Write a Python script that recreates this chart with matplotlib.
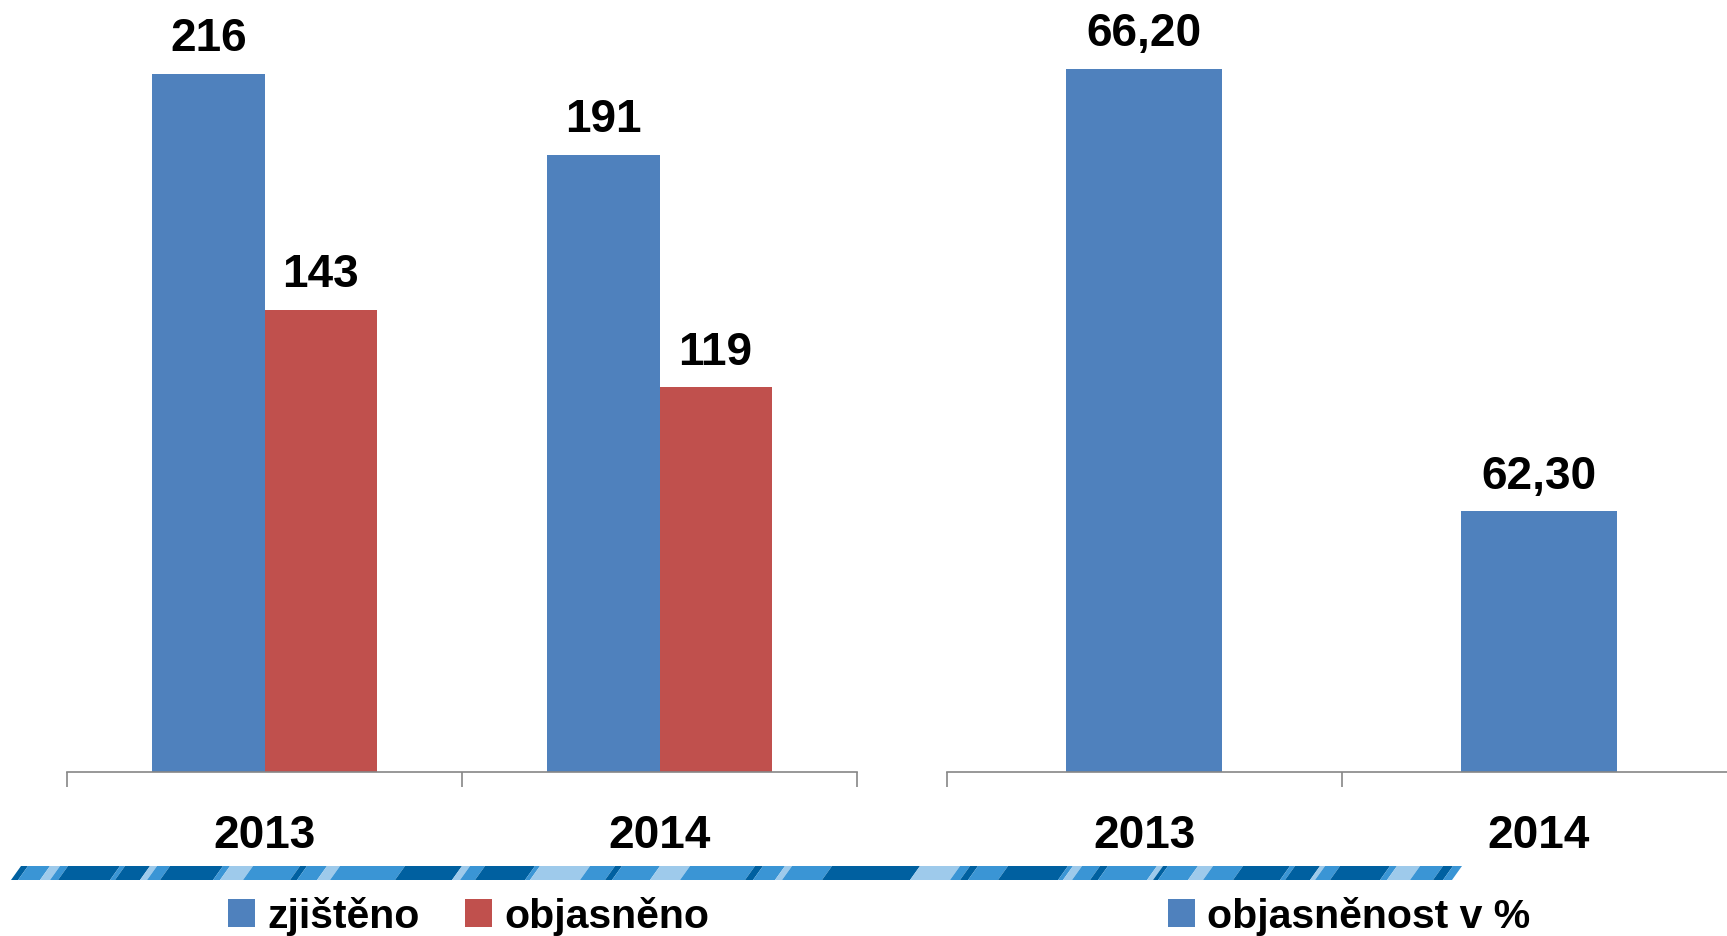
import numpy as np
import matplotlib.pyplot as plt
from matplotlib.patches import Polygon

plt.rcParams['font.family'] = ['Liberation Sans Narrow', 'Liberation Sans', 'DejaVu Sans']
plt.rcParams['font.weight'] = 'bold'

# data
roky = ['2013', '2014']
zjisteno = [216, 191]
objasneno = [143, 119]
objasnenost = [66.20, 62.30]

modra = '#4F81BD'
cervena = '#C0504D'

# ozdobny pruh pod grafem (hranice useku v px a barvy)
pruh_hranice = [11, 18, 40, 50, 58, 110, 115, 140, 147, 160, 213, 220, 243, 290, 297,
                317, 330, 395, 452, 460, 475, 525, 530, 580, 605, 612, 650, 680, 745,
                753, 775, 782, 822, 910, 950, 960, 968, 998, 1058, 1063, 1072, 1090,
                1098, 1147, 1153, 1158, 1188, 1203, 1233, 1280, 1285, 1310, 1315, 1330,
                1380, 1387, 1410, 1433, 1443, 1452]
pruh_barvy = 'dmlmdmdlmdmlmdmlmdlmdmlmdmlmdmlmdlmdmdmlmdmldmlmdmdlmdmlmdm'
barvy_map = {'d': '#0060A0', 'm': '#3A95D5', 'l': '#9ECAEB'}

W, H = 1727, 936
fig = plt.figure(figsize=(W / 100, H / 100), dpi=100)


def fx(px):
    return px / W


def fy(px):
    return 1 - px / H


x = np.arange(len(roky))

# levy graf
ax1 = fig.add_axes([fx(67), fy(772), fx(857) - fx(67), fy(0) - fy(772)])
w = 0.284
b1 = ax1.bar(x - w / 2, zjisteno, w, color=modra, label='zjištěno')
b2 = ax1.bar(x + w / 2, objasneno, w, color=cervena, label='objasněno')
ax1.set_xlim(-0.5, 1.5)
ax1.set_ylim(0, 238.9)
for bars in (b1, b2):
    for r in bars:
        ax1.annotate(f'{int(r.get_height())}', (r.get_x() + r.get_width() / 2, r.get_height()),
                     xytext=(0, 25), textcoords='offset points', ha='center', va='center',
                     fontsize=33, fontweight='bold')

# pravy graf
ax2 = fig.add_axes([fx(947), fy(772), fx(1736) - fx(947), fy(0) - fy(772)])
w2 = 0.396
b3 = ax2.bar(x, objasnenost, w2, color=modra, label='objasněnost v %')
ax2.set_xlim(-0.5, 1.5)
ax2.set_ylim(60, 66.81)
for r, v in zip(b3, objasnenost):
    ax2.annotate(f'{v:.2f}'.replace('.', ','), (r.get_x() + r.get_width() / 2, r.get_height()),
                 xytext=(0, 25), textcoords='offset points', ha='center', va='center',
                 fontsize=33, fontweight='bold')

for ax in (ax1, ax2):
    for s in ('top', 'right', 'left'):
        ax.spines[s].set_visible(False)
    ax.spines['bottom'].set_color('#868686')
    ax.spines['bottom'].set_linewidth(1.2)
    ax.set_yticks([])
    ax.set_xticks(x)
    ax.set_xticklabels(roky, fontsize=33, fontweight='bold')
    ax.set_xticks([-0.5, 0.5, 1.5], minor=True)
    ax.tick_params(axis='x', which='major', length=0, pad=30)
    ax.tick_params(axis='x', which='minor', length=11, width=1.2, color='#868686', direction='out')

# pruh
pax = fig.add_axes([0, 0, 1, 1])
pax.set_xlim(0, W)
pax.set_ylim(H, 0)
pax.axis('off')
sklon = 10
for i, c in enumerate(pruh_barvy):
    a, b = pruh_hranice[i], pruh_hranice[i + 1]
    pax.add_patch(Polygon([(a, 880), (b, 880), (b + sklon, 866), (a + sklon, 866)],
                          closed=True, facecolor=barvy_map[c], edgecolor='none'))

# legendy
leg_kw = dict(frameon=False, handlelength=0.66, handleheight=0.66,
              handletextpad=0.3, columnspacing=1.1, borderpad=0, borderaxespad=0,
              loc='center left', prop={'weight': 'bold', 'size': 29.5})
fig.legend(handles=[b1, b2], ncol=2, bbox_to_anchor=(fx(228), fy(916)), **leg_kw)
fig.legend(handles=[b3], ncol=1, bbox_to_anchor=(fx(1168), fy(916)), **leg_kw)

fig.savefig('out.png', dpi=100)
